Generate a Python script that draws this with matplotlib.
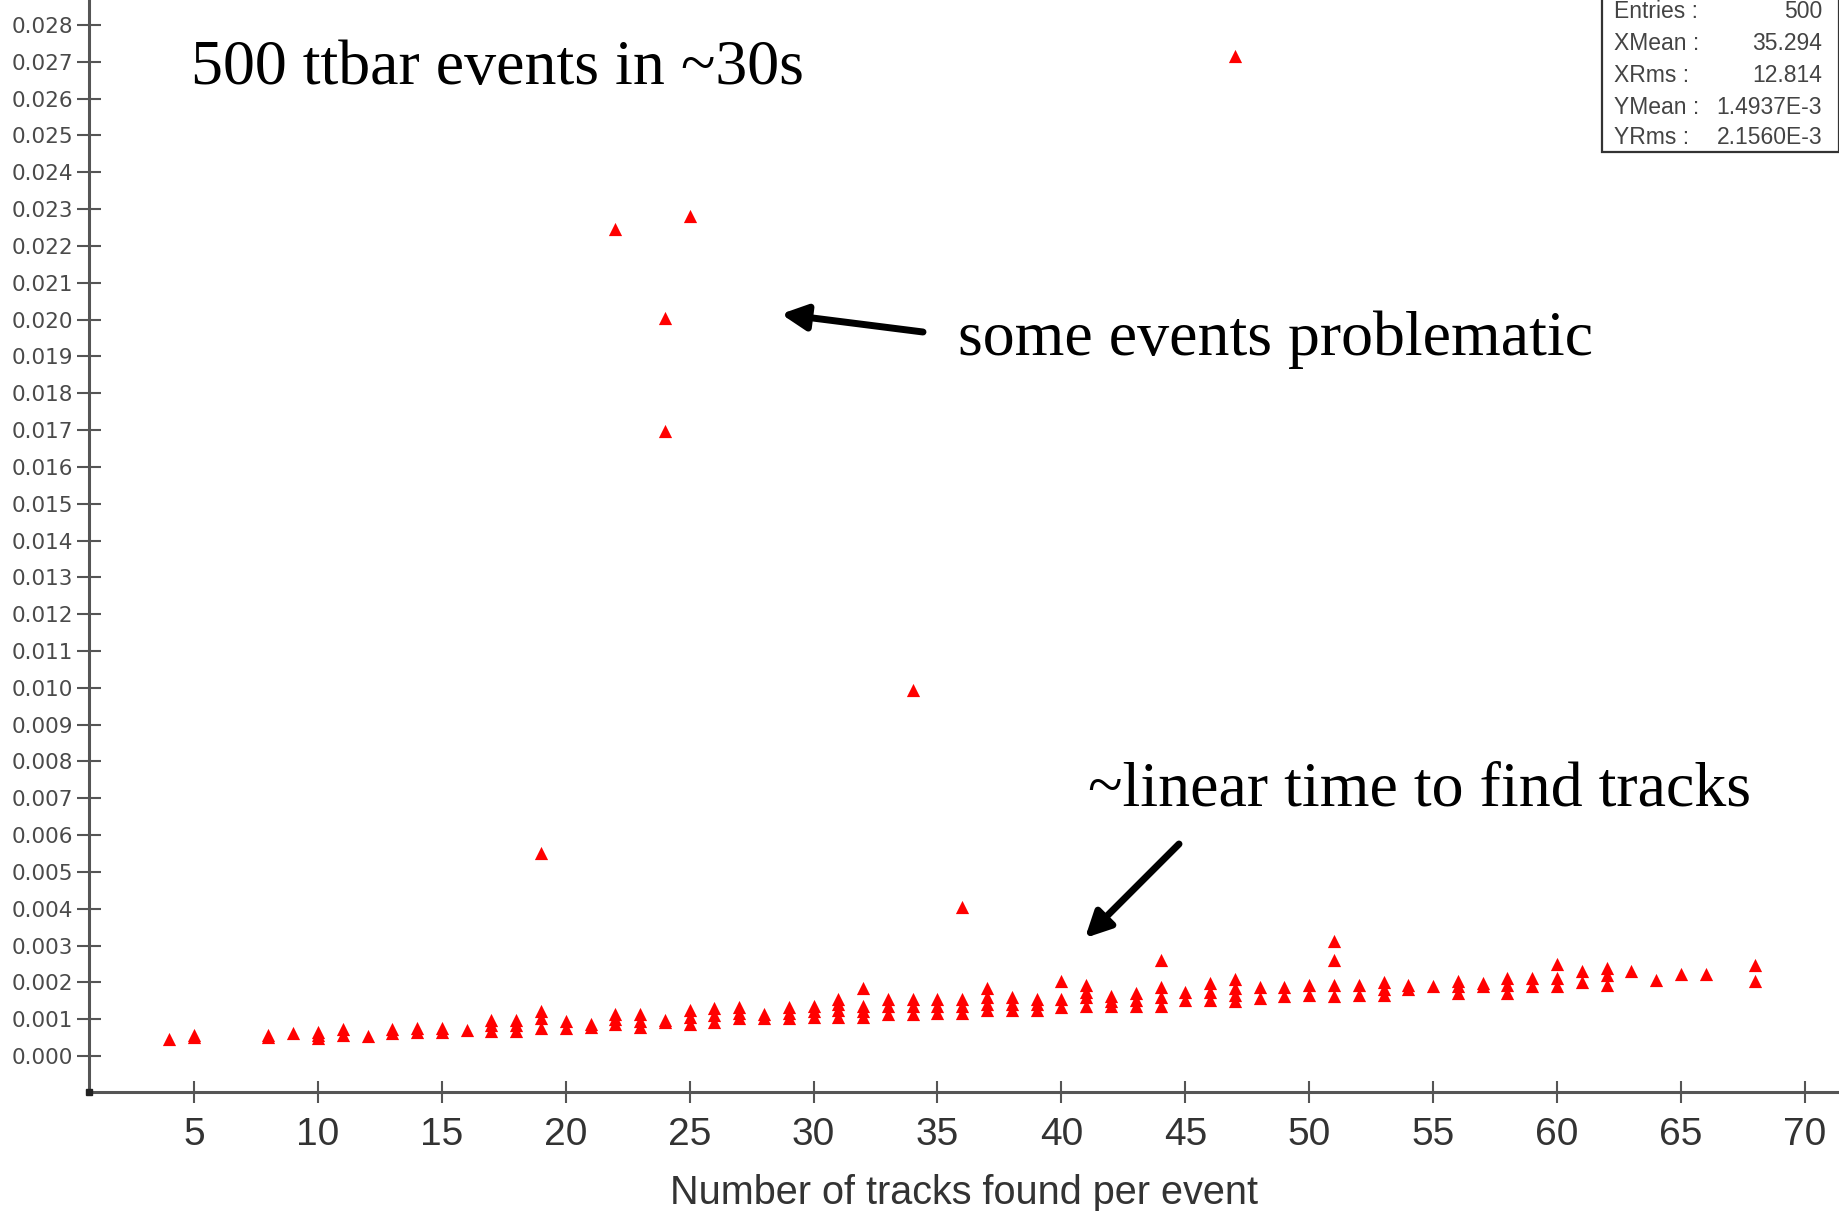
import matplotlib
matplotlib.use("Agg")
import matplotlib.pyplot as plt
from matplotlib.patches import Rectangle, FancyArrowPatch

# ---- data ----
tracks = [4, 5, 5, 8, 8, 9, 10, 10, 10, 11, 11, 12, 13, 13, 14, 14, 15, 15, 16,
          17, 17, 17, 18, 18, 18, 19, 19, 19, 20, 20, 21, 21, 22, 22, 22, 23, 23, 23,
          24, 24, 25, 25, 25, 26, 26, 26, 27, 27, 27, 28, 28, 29, 29, 29,
          30, 30, 30, 31, 31, 31, 31, 32, 32, 32, 32, 33, 33, 33, 34, 34, 34,
          35, 35, 35, 36, 36, 36, 37, 37, 37, 37, 38, 38, 38, 39, 39, 39,
          40, 40, 40, 41, 41, 41, 41, 42, 42, 42, 43, 43, 43, 44, 44, 44, 44,
          45, 45, 46, 46, 46, 47, 47, 47, 47, 48, 48, 49, 49, 50, 50,
          51, 51, 51, 51, 52, 52, 53, 53, 53, 54, 54, 55, 56, 56, 56, 57, 57,
          58, 58, 58, 59, 59, 60, 60, 60, 61, 61, 62, 62, 62, 63, 64, 65, 66, 68, 68]
time_per_event = [0.00045, 0.00052, 0.00058, 0.00052, 0.00058, 0.00063, 0.00048, 0.00058, 0.00065,
                  0.00056, 0.00072, 0.00055, 0.00063, 0.00072, 0.00064, 0.00077, 0.00064, 0.00077, 0.00070,
                  0.00069, 0.00085, 0.00099, 0.00069, 0.00085, 0.00099, 0.00075, 0.00103, 0.00121,
                  0.00075, 0.00094, 0.00080, 0.00088, 0.00086, 0.00100, 0.00113, 0.00080, 0.00095, 0.00113,
                  0.00091, 0.00099, 0.00086, 0.00105, 0.00124, 0.00091, 0.00110, 0.00130,
                  0.00102, 0.00118, 0.00132, 0.00102, 0.00115, 0.00102, 0.00118, 0.00132,
                  0.00107, 0.00122, 0.00137, 0.00107, 0.00125, 0.00140, 0.00156,
                  0.00107, 0.00122, 0.00137, 0.00186, 0.00113, 0.00135, 0.00156, 0.00113, 0.00135, 0.00156,
                  0.00118, 0.00137, 0.00156, 0.00118, 0.00137, 0.00156, 0.00124, 0.00140, 0.00160, 0.00186,
                  0.00124, 0.00142, 0.00159, 0.00124, 0.00140, 0.00156,
                  0.00132, 0.00156, 0.00205, 0.00137, 0.00160, 0.00175, 0.00192,
                  0.00135, 0.00150, 0.00164, 0.00135, 0.00153, 0.00171, 0.00135, 0.00160, 0.00187, 0.00261,
                  0.00151, 0.00175, 0.00151, 0.00174, 0.00198, 0.00148, 0.00165, 0.00185, 0.00208,
                  0.00157, 0.00187, 0.00163, 0.00187, 0.00166, 0.00192,
                  0.00163, 0.00192, 0.00261, 0.00311, 0.00166, 0.00192, 0.00166, 0.00183, 0.00200,
                  0.00183, 0.00192, 0.00190, 0.00172, 0.00190, 0.00205, 0.00190, 0.00198,
                  0.00172, 0.00192, 0.00211, 0.00190, 0.00213, 0.00190, 0.00211, 0.00251,
                  0.00202, 0.00230, 0.00194, 0.00220, 0.00240, 0.00230, 0.00207, 0.00223, 0.00223,
                  0.00205, 0.00246]
outlier_tracks = [19, 22, 24, 24, 25, 34, 36, 47]
outlier_times = [0.00551, 0.02246, 0.02004, 0.01698, 0.02281, 0.00994, 0.00405, 0.02717]

y_ticks = [i / 1000 for i in range(0, 29)]
x_ticks = list(range(5, 71, 5))

stat_names = ["Entries :", "XMean :", "XRms :", "YMean :", "YRms :"]
stat_values = ["500", "35.294", "12.814", "1.4937E-3", "2.1560E-3"]

# ---- figure ----
W, H = 1839, 1211
fig = plt.figure(figsize=(W / 100, H / 100), dpi=100)
fig.patch.set_facecolor("white")
ax = fig.add_axes([89 / W, (H - 1092) / H, (W - 89) / W, 1092 / H])

axis_col = "#555555"
ax.scatter(tracks, time_per_event, marker="^", s=9.5 ** 2, color="#ff0000",
           linewidths=0, zorder=3)
ax.scatter(outlier_tracks, outlier_times, marker="^", s=9.5 ** 2, color="#ff0000",
           linewidths=0, zorder=3)

ax.set_xlim(0.76, 71.38)
ax.set_ylim(-0.000978, 0.02868)
for s in ["top", "right"]:
    ax.spines[s].set_visible(False)
for s in ["left", "bottom"]:
    ax.spines[s].set_color(axis_col)
    ax.spines[s].set_linewidth(2.2)

ax.set_yticks(y_ticks)
ax.set_yticklabels([f"{v:.3f}" for v in y_ticks], fontfamily="DejaVu Sans",
                   fontsize=15.5, color="#4a4a4a")
ax.set_xticks(x_ticks)
ax.set_xticklabels([str(v) for v in x_ticks], fontfamily="Liberation Sans",
                   fontsize=28, color="#333333")
ax.tick_params(axis="y", direction="inout", length=17, width=1.5, colors=axis_col,
               pad=3, labelcolor="#4a4a4a")
ax.tick_params(axis="x", direction="inout", length=16, width=1.5, colors=axis_col,
               pad=10, labelcolor="#333333")

# origin dot
ax.plot([0.76], [-0.000978], marker="s", ms=4, color="#222222", clip_on=False, zorder=5)

fig.text(964 / W, 7 / H, "Number of tracks found per event", ha="center", va="baseline",
         fontfamily="Liberation Sans", fontsize=28.5, color="#333333")

# annotations
serif = "Liberation Serif"
fig.text(191 / W, (H - 84) / H, "500 ttbar events in ~30s", fontfamily=serif,
         fontsize=46, color="black", va="baseline", ha="left")
fig.text(958 / W, (H - 355) / H, "some events problematic", fontfamily=serif,
         fontsize=46, color="black", va="baseline", ha="left")
fig.text(1088 / W, (H - 806) / H, "~linear time to find tracks", fontfamily=serif,
         fontsize=46, color="black", va="baseline", ha="left")

arrow_props = dict(arrowstyle="-|>", lw=5, color="black", mutation_scale=38,
                   shrinkA=0, shrinkB=0)
fig.add_artist(FancyArrowPatch((923, H - 332), (781, H - 314), transform=None, **arrow_props))
fig.add_artist(FancyArrowPatch((1179, H - 844), (1085, H - 938), transform=None, **arrow_props))

# stats box
box = Rectangle((1602, H - 152), 237, 170, transform=None, facecolor="white",
                edgecolor="#333333", linewidth=1.6, zorder=10)
fig.add_artist(box)
row_y = [12, 43, 75, 107, 138]
for name, val, ry in zip(stat_names, stat_values, row_y):
    fig.text(1614 / W, (H - ry) / H, name, ha="left", va="center",
             fontfamily="Liberation Sans", fontsize=16.5, color="#444444", zorder=11)
    fig.text(1822 / W, (H - ry) / H, val, ha="right", va="center",
             fontfamily="Liberation Sans", fontsize=16.5, color="#444444", zorder=11)

fig.savefig("out.png", dpi=100, facecolor="white")
